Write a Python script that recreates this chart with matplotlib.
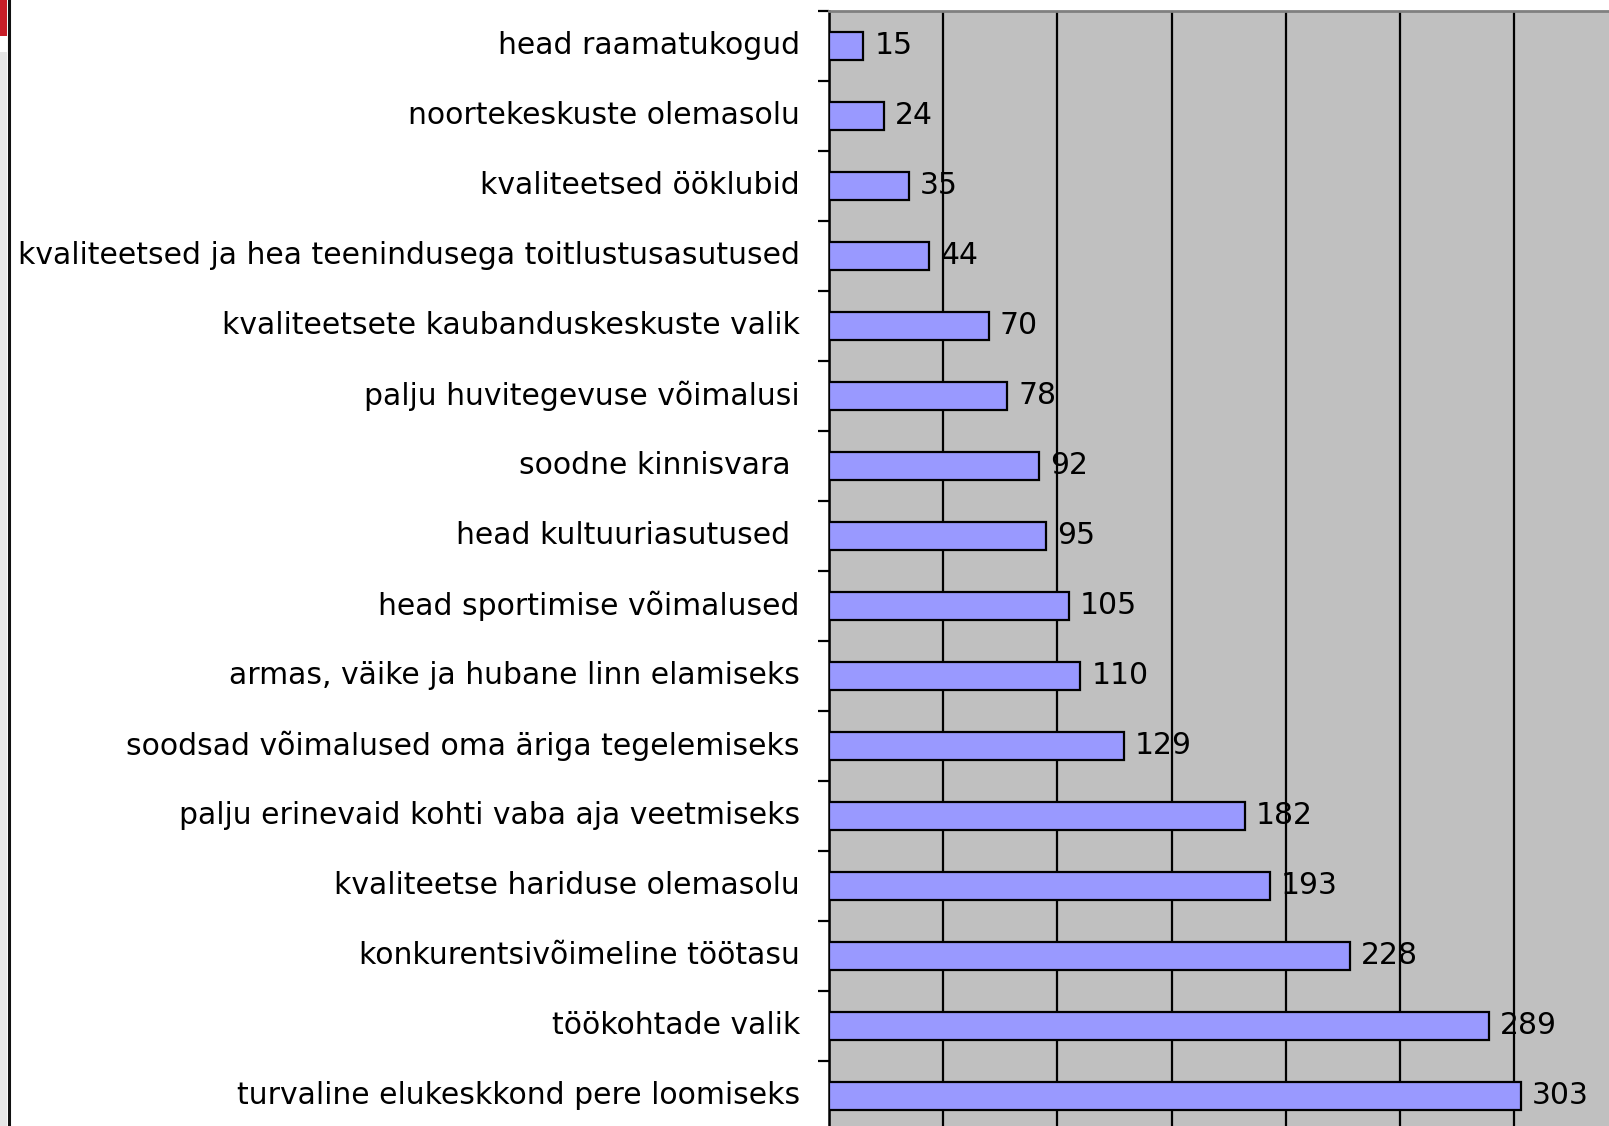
import matplotlib
matplotlib.use("Agg")
import matplotlib.pyplot as plt
import matplotlib.transforms as mtransforms
from matplotlib.patches import Rectangle
from matplotlib.lines import Line2D
import numpy as np

categories = [
    "head raamatukogud",
    "noortekeskuste olemasolu",
    "kvaliteetsed ööklubid",
    "kvaliteetsed ja hea teenindusega toitlustusasutused",
    "kvaliteetsete kaubanduskeskuste valik",
    "palju huvitegevuse võimalusi",
    "soodne kinnisvara ",
    "head kultuuriasutused ",
    "head sportimise võimalused",
    "armas, väike ja hubane linn elamiseks",
    "soodsad võimalused oma äriga tegelemiseks",
    "palju erinevaid kohti vaba aja veetmiseks",
    "kvaliteetse hariduse olemasolu",
    "konkurentsivõimeline töötasu",
    "töökohtade valik",
    "turvaline elukeskkond pere loomiseks",
]
values = [15, 24, 35, 44, 70, 78, 92, 95, 105, 110, 129, 182, 193, 228, 289, 303]
xticks = [0, 50, 100, 150, 200, 250, 300, 350]

plt.rcParams['font.family'] = ['DejaVu Sans']

W, H = 1609, 1126
fig = plt.figure(figsize=(W / 100, H / 100), dpi=100)
fig.patch.set_facecolor("white")

# decorative frame on left
fig.add_artist(Rectangle((0, 1 - 36 / H), 7 / W, 36 / H, transform=fig.transFigure,
                         facecolor="#c81e28", edgecolor="none"))
fig.add_artist(Rectangle((0, 0), 7 / W, 1 - 52 / H, transform=fig.transFigure,
                         facecolor="#e6e6e6", edgecolor="none"))
fig.add_artist(Line2D([8.5 / W, 8.5 / W], [0, 1], transform=fig.transFigure,
                      color="#111111", lw=2.2))

left_px, top_px = 829, 11
px_per_unit = 2.284
xmax = 350
n = len(categories)
cat_px = 70.0
ax_w = xmax * px_per_unit
ax_h = n * cat_px
ax = fig.add_axes([left_px / W, 1 - (top_px + ax_h) / H, ax_w / W, ax_h / H])
ax.set_facecolor("#c0c0c0")

y = np.arange(n)
ax.barh(y, values, height=0.39, color="#9999ff", edgecolor="black", linewidth=1.6, zorder=3)
ax.set_xlim(0, xmax)
ax.set_ylim(n - 0.5, -0.5)

ax.set_xticks(xticks)
ax.xaxis.grid(True, color="black", linewidth=1.6, zorder=1)
ax.set_axisbelow(True)
ax.tick_params(axis="x", length=0, labelbottom=False)

ax.set_yticks(y)
ax.set_yticklabels(categories, fontsize=21.5)
ax.tick_params(axis="y", which="major", length=0, pad=21)
ax.set_yticks(np.arange(n + 1) - 0.5, minor=True)
ax.tick_params(axis="y", which="minor", length=8, width=1.6, color="black", direction="out")

shift = mtransforms.ScaledTranslation(0, 2.5 / 72, fig.dpi_scale_trans)
for lbl in ax.get_yticklabels():
    lbl.set_transform(lbl.get_transform() + shift)

for yi, v in zip(y, values):
    ax.annotate(str(v), xy=(v, yi), xytext=(8, 0.5), textcoords="offset points",
                ha="left", va="center", fontsize=21.5, zorder=5)

ax.spines["left"].set_color("black")
ax.spines["left"].set_linewidth(1.8)
ax.spines["top"].set_color("#808080")
ax.spines["top"].set_linewidth(2)
ax.spines["right"].set_visible(False)
ax.spines["bottom"].set_visible(False)

fig.savefig("out.png", dpi=100)
